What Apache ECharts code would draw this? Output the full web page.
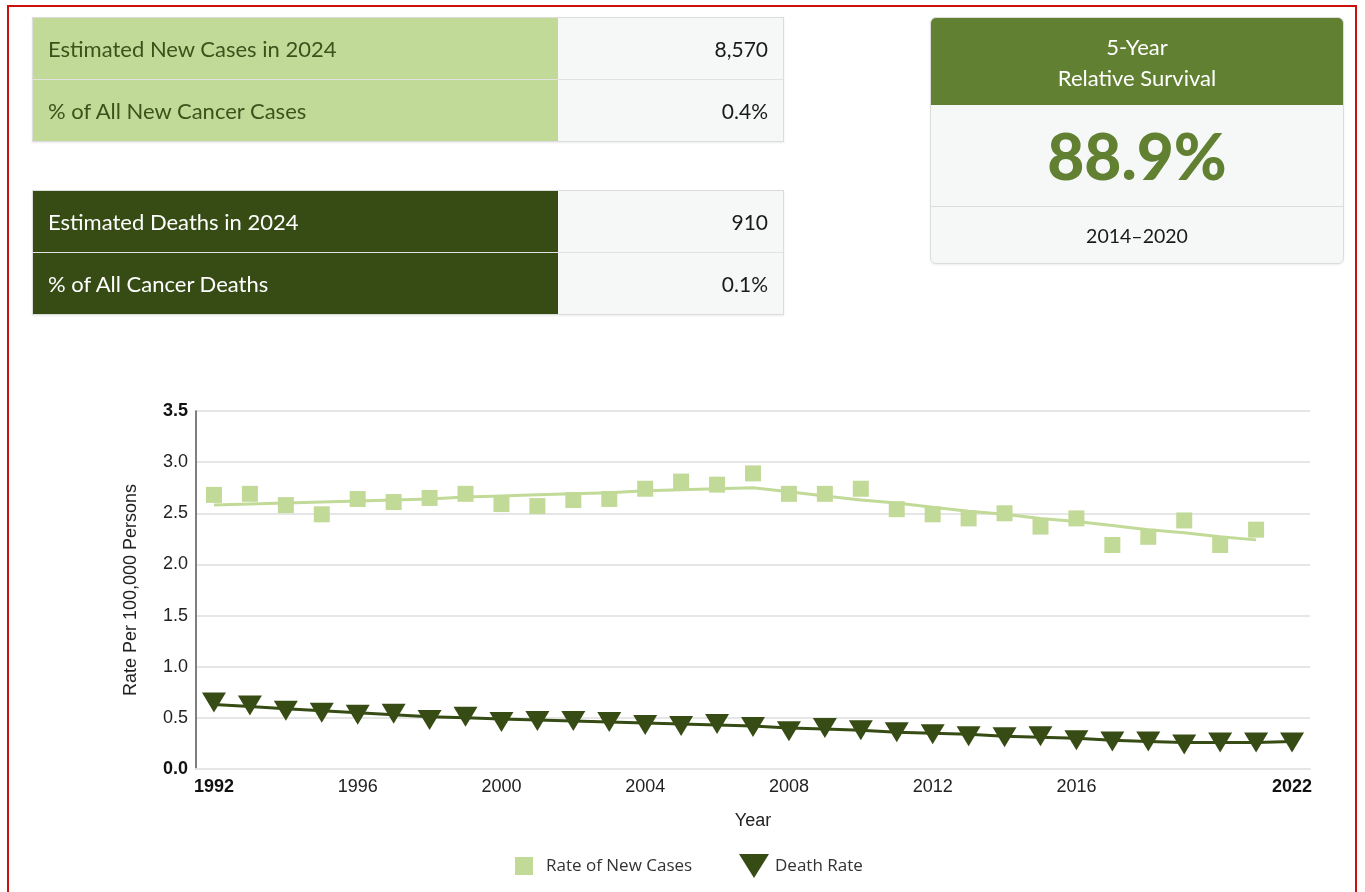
<!DOCTYPE html>
<html>
<head>
<meta charset="utf-8">
<script src="https://cdn.jsdelivr.net/npm/echarts@6/dist/echarts.min.js"></script>
<style>
  html, body { margin: 0; padding: 0; background: #fff; }
  body { width: 1365px; height: 892px; position: relative; overflow: hidden; font-family: 'Lato', sans-serif; }
  .frame { position: absolute; left: 7px; top: 5px; width: 1350px; height: 900px; border: 2px solid #cc1010; box-sizing: border-box; }
  #chart { position: absolute; left: 0; top: 0; width: 1365px; height: 892px; }
  .stat { position: absolute; left: 32px; width: 750px; border: 1px solid #dcdcdc; box-shadow: 0 1px 2px rgba(0,0,0,0.08); z-index: 2; }
  .stat .row { display: flex; height: 61px; }
  .stat .row + .row { border-top: 1px solid #e2e2e2; }
  .stat .lab { width: 510px; padding-left: 15px; display: flex; align-items: center; font-size: 22px; }
  .stat .val { flex: 1; background: #f6f7f7; display: flex; align-items: center; justify-content: flex-end; padding-right: 15px; font-size: 21px; color: #1a1a1a; }
  .light .lab { background: #c2da98; color: #3b531b; }
  .dark .lab { background: #364c14; color: #fff; }
  .surv { position: absolute; left: 930px; top: 17px; width: 412px; height: 245px; border: 1px solid #dcdcdc; border-radius: 6px; overflow: hidden; background: #f6f7f7; z-index: 2; box-shadow: 0 1px 2px rgba(0,0,0,0.08); }
  .surv .head { height: 87px; background: #618031; color: #fff; text-align: center; font-size: 22px; line-height: 31px; padding-top: 13px; box-sizing: border-box; }
  .surv .big { height: 102px; display: flex; align-items: center; justify-content: center; font-size: 64px; font-weight: 900; color: #618031; border-bottom: 1px solid #dcdcdc; box-sizing: border-box; }
  .surv .yrs { height: 56px; display: flex; align-items: center; justify-content: center; font-size: 19.5px; color: #1a1a1a; }
</style>
</head>
<body>
<div class="frame"></div>
<div id="chart"></div>

<div class="stat light" style="top:17px">
  <div class="row"><div class="lab">Estimated New Cases in 2024</div><div class="val">8,570</div></div>
  <div class="row"><div class="lab">% of All New Cancer Cases</div><div class="val">0.4%</div></div>
</div>
<div class="stat dark" style="top:190px">
  <div class="row"><div class="lab">Estimated Deaths in 2024</div><div class="val">910</div></div>
  <div class="row"><div class="lab">% of All Cancer Deaths</div><div class="val">0.1%</div></div>
</div>
<div class="surv">
  <div class="head">5-Year<br>Relative Survival</div>
  <div class="big">88.9%</div>
  <div class="yrs">2014–2020</div>
</div>

<script>
const years = [
  '1992', '1993', '1994', '1995', '1996', '1997', '1998', '1999', '2000', '2001',
  '2002', '2003', '2004', '2005', '2006', '2007', '2008', '2009', '2010', '2011',
  '2012', '2013', '2014', '2015', '2016', '2017', '2018', '2019', '2020', '2021', '2022'
];
const shownYears = ['1992', '1996', '2000', '2004', '2008', '2012', '2016', '2022'];

// observed rate of new cases (no 2022 value)
const newCases = [
  2.68, 2.69, 2.58, 2.49, 2.64, 2.61, 2.65, 2.69, 2.59, 2.57,
  2.63, 2.64, 2.74, 2.81, 2.78, 2.89, 2.69, 2.69, 2.74, 2.54,
  2.49, 2.45, 2.50, 2.37, 2.45, 2.19, 2.27, 2.43, 2.19, 2.34, null
];
// fitted trend for new cases
const newCasesTrend = [
  2.58, 2.59, 2.60, 2.61, 2.62, 2.63, 2.64, 2.66, 2.67, 2.68,
  2.69, 2.70, 2.72, 2.73, 2.74, 2.75, 2.71, 2.67, 2.63, 2.60,
  2.56, 2.52, 2.49, 2.45, 2.42, 2.38, 2.34, 2.31, 2.27, 2.24, null
];
// observed death rate
const deaths = [
  0.65, 0.62, 0.57, 0.55, 0.53, 0.54, 0.48, 0.51, 0.46, 0.47,
  0.47, 0.46, 0.43, 0.42, 0.44, 0.41, 0.37, 0.40, 0.38, 0.36,
  0.34, 0.32, 0.31, 0.32, 0.28, 0.27, 0.27, 0.24, 0.26, 0.26, 0.26
];
// fitted trend for deaths
const deathsTrend = [
  0.63, 0.61, 0.59, 0.57, 0.55, 0.53, 0.51, 0.50, 0.49, 0.48,
  0.47, 0.46, 0.45, 0.44, 0.43, 0.42, 0.40, 0.39, 0.38, 0.36,
  0.35, 0.34, 0.32, 0.31, 0.30, 0.28, 0.27, 0.26, 0.26, 0.26, 0.27
];

const lightGreen = '#c2da98';
const darkGreen = '#364c14';
const axisFont = "'Liberation Sans', Arial, sans-serif";

const option = {
  animation: false,
  textStyle: { fontFamily: axisFont },
  grid: { left: 196, right: 55, top: 411, bottom: 123 },
  legend: [
    {
      left: 515,
      top: 857,
      padding: 0,
      itemWidth: 18,
      itemHeight: 18,
      selectedMode: false,
      textStyle: { fontFamily: "'Open Sans', sans-serif", fontSize: 17, color: '#333', padding: [0, 0, 0, 8] },
      data: [{ name: 'Rate of New Cases', icon: 'rect', itemStyle: { color: lightGreen } }],
    },
    {
      left: 739,
      top: 854,
      padding: 0,
      itemWidth: 30,
      itemHeight: 24,
      selectedMode: false,
      textStyle: { fontFamily: "'Open Sans', sans-serif", fontSize: 17, color: '#333', padding: [0, 0, 0, 1] },
      data: [{ name: 'Death Rate', icon: 'path://M0,0L30,0L15,24Z', itemStyle: { color: darkGreen } }],
    },
  ],
  xAxis: {
    type: 'category',
    data: years,
    boundaryGap: true,
    name: 'Year',
    nameLocation: 'middle',
    nameGap: 43,
    nameTextStyle: { fontSize: 18, color: '#222' },
    axisLine: { show: true, lineStyle: { color: '#e6e6e6', width: 2 } },
    axisTick: { show: false },
    axisLabel: {
      margin: 9,
      fontSize: 18,
      color: '#222',
      interval: (i, v) => shownYears.includes(v),
      formatter: (v) => (v === '1992' || v === '2022') ? '{b|' + v + '}' : v,
      rich: { b: { fontWeight: 'bold', fontSize: 18, color: '#111' } },
    },
  },
  yAxis: {
    type: 'value',
    min: 0,
    max: 3.5,
    interval: 0.5,
    name: 'Rate Per 100,000 Persons',
    nameLocation: 'middle',
    nameGap: 56,
    nameTextStyle: { fontSize: 18, color: '#222' },
    axisLine: { show: true, lineStyle: { color: '#555', width: 1.5 } },
    axisTick: { show: false },
    splitLine: { lineStyle: { color: '#e6e6e6', width: 2 } },
    axisLabel: {
      margin: 8,
      fontSize: 18,
      color: '#222',
      formatter: (v) => (v === 0 || v === 3.5) ? '{b|' + v.toFixed(1) + '}' : v.toFixed(1),
      rich: { b: { fontWeight: 'bold', fontSize: 18, color: '#111' } },
    },
  },
  series: [
    {
      name: 'New Cases Trend',
      type: 'line',
      data: newCasesTrend,
      symbol: 'none',
      lineStyle: { color: lightGreen, width: 3 },
      z: 2,
    },
    {
      name: 'Rate of New Cases',
      type: 'scatter',
      data: newCases,
      symbol: 'rect',
      symbolSize: 16,
      itemStyle: { color: lightGreen, opacity: 1 },
      z: 3,
    },
    {
      name: 'Death Trend',
      type: 'line',
      data: deathsTrend,
      symbol: 'none',
      lineStyle: { color: darkGreen, width: 3 },
      z: 2,
    },
    {
      name: 'Death Rate',
      type: 'scatter',
      data: deaths,
      symbol: 'triangle',
      symbolRotate: 180,
      symbolSize: [24, 20],
      itemStyle: { color: darkGreen, opacity: 1 },
      z: 3,
    },
  ],
};

const chart = echarts.init(document.getElementById('chart'));
chart.setOption(option);
</script>
</body>
</html>
